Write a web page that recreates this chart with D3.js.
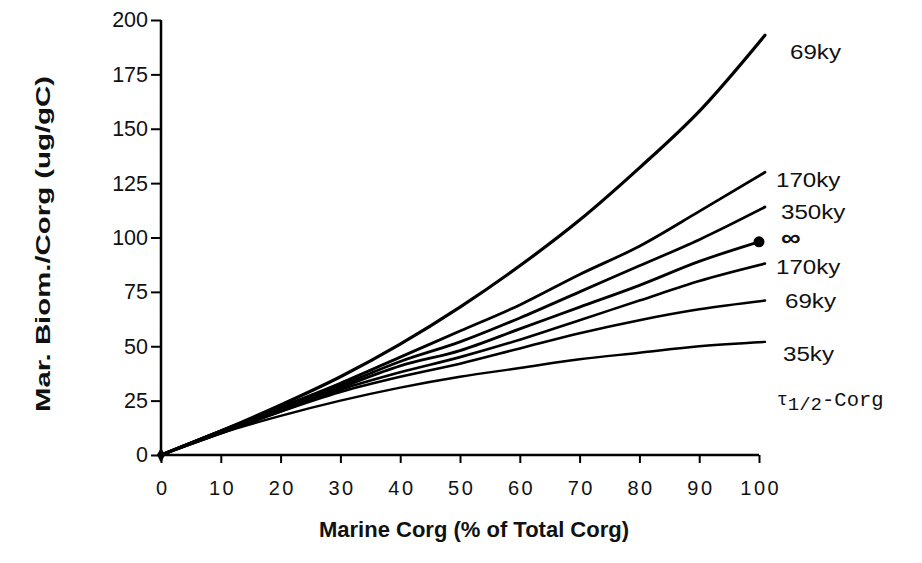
<!DOCTYPE html>
<html>
<head>
<meta charset="utf-8">
<script src="https://cdn.jsdelivr.net/npm/d3@7"></script>
<style>
  html, body { margin: 0; padding: 0; background: #fff; }
  svg { display: block; }
  text { fill: #111; }
</style>
</head>
<body>
<svg id="chart" width="922" height="563"></svg>
<script>
// Marine Corg share (% of total Corg) at which each curve is sampled
const marinePct = [0, 10, 20, 30, 40, 50, 60, 70, 80, 90, 101];
const marinePctInf = [0, 10, 20, 30, 40, 50, 60, 70, 80, 90, 100];

// Marine biomarker / Corg (ug/gC) for each Corg half-life
const hl69Upper  = [0, 11, 23, 36, 51, 68, 87, 108, 132, 158, 193];
const hl170Upper = [0, 11, 22, 33, 45, 57, 69, 83, 96, 112, 130];
const hl350      = [0, 11, 22, 32, 43, 52, 63, 75, 87, 99, 114];
const hlInfinite = [0, 11, 21, 31, 41, 48, 58, 68, 78, 89, 98];
const hl170Lower = [0, 10, 20, 30, 38, 45, 53, 62, 71, 80, 88];
const hl69Lower  = [0, 10, 20, 29, 36, 42, 49, 56, 62, 67, 71];
const hl35       = [0, 10, 18, 25, 31, 36, 40, 44, 47, 50, 52];

const curveLabels = ["69ky", "170ky", "350ky", "\u221E", "170ky", "69ky", "35ky"];

const xTicks = [0, 10, 20, 30, 40, 50, 60, 70, 80, 90, 100];
const yTicks = [0, 25, 50, 75, 100, 125, 150, 175, 200];

const svg = d3.select("#chart");
const x = d3.scaleLinear().domain([0, 100]).range([161, 759]);
const y = d3.scaleLinear().domain([0, 200]).range([455, 20]);

const series = [
  { xs: marinePct,    ys: hl69Upper,  w: 3.2 },
  { xs: marinePct,    ys: hl170Upper, w: 2.8 },
  { xs: marinePct,    ys: hl350,      w: 2.8 },
  { xs: marinePctInf, ys: hlInfinite, w: 2.8 },
  { xs: marinePct,    ys: hl170Lower, w: 2.6 },
  { xs: marinePct,    ys: hl69Lower,  w: 2.6 },
  { xs: marinePct,    ys: hl35,       w: 2.4 }
];

const line = d3.line()
  .x(d => x(d[0]))
  .y(d => y(d[1]))
  .curve(d3.curveMonotoneX);

// curves
svg.append("g").selectAll("path")
  .data(series)
  .join("path")
  .attr("d", s => line(s.xs.map((v, i) => [v, s.ys[i]])))
  .attr("fill", "none")
  .attr("stroke", "#000")
  .attr("stroke-width", s => s.w)
  .attr("stroke-linejoin", "round")
  .attr("stroke-linecap", "round");

// end point of the non-degrading curve
svg.append("circle")
  .attr("cx", x(marinePctInf[marinePctInf.length - 1]))
  .attr("cy", y(hlInfinite[hlInfinite.length - 1]))
  .attr("r", 5.5)
  .attr("fill", "#000");

// origin marker
svg.append("path")
  .attr("d", d3.symbol().type(d3.symbolDiamond).size(60)())
  .attr("transform", `translate(${x(0)},${y(0)})`)
  .attr("fill", "#000");

// x axis
const xAxis = svg.append("g").attr("transform", `translate(0,${y(0)})`);
xAxis.call(d3.axisBottom(x).tickValues(d3.range(0, 101, 5)).tickSize(4).tickFormat(""))
  .call(g => g.select(".domain").remove());
xAxis.call(d3.axisBottom(x).tickValues(xTicks).tickSize(8).tickPadding(18).tickFormat(d3.format("d")))
  .call(g => g.select(".domain").remove());
xAxis.selectAll("line").attr("stroke", "#000").attr("stroke-width", 2);
xAxis.selectAll("text")
  .attr("font-family", "Liberation Sans, Arial, sans-serif")
  .attr("font-size", 20)
  .attr("letter-spacing", "2.5px")
  .attr("dx", "1.2px")
  .attr("fill", "#111");
xAxis.append("line")
  .attr("x1", x(0)).attr("x2", x(100))
  .attr("stroke", "#000").attr("stroke-width", 2.5);

// y axis
const yAxis = svg.append("g").attr("transform", `translate(${x(0)},0)`);
yAxis.call(d3.axisLeft(y).tickValues(d3.range(0, 201, 12.5)).tickSize(5).tickFormat(""))
  .call(g => g.select(".domain").remove());
yAxis.call(d3.axisLeft(y).tickValues(yTicks).tickSize(10).tickPadding(3).tickFormat(d3.format("d")))
  .call(g => g.select(".domain").remove());
yAxis.selectAll("line").attr("stroke", "#000").attr("stroke-width", 2);
yAxis.selectAll("text")
  .attr("font-family", "Liberation Sans, Arial, sans-serif")
  .attr("font-size", 21.5)
  .attr("fill", "#111");
yAxis.append("line")
  .attr("y1", y(0) + 6).attr("y2", y(200))
  .attr("stroke", "#000").attr("stroke-width", 2.5);

// axis titles
svg.append("text")
  .attr("transform", "translate(42,244) rotate(-90)")
  .attr("text-anchor", "middle")
  .attr("dominant-baseline", "central")
  .attr("font-family", "Liberation Sans, Arial, sans-serif")
  .attr("font-weight", "bold")
  .attr("font-size", 21)
  .attr("textLength", 336)
  .attr("lengthAdjust", "spacingAndGlyphs")
  .text("Mar. Biom./Corg (ug/gC)");

svg.append("text")
  .attr("x", 474).attr("y", 529)
  .attr("text-anchor", "middle")
  .attr("dominant-baseline", "central")
  .attr("font-family", "Liberation Sans, Arial, sans-serif")
  .attr("font-weight", "bold")
  .attr("font-size", 22)
  .text("Marine Corg (% of Total Corg)");

// curve labels at the right end
const labelPos = [
  [790, 52], [776, 180], [781, 212], [781, 238], [776, 267], [785, 301], [783, 354]
];
svg.append("g").selectAll("text")
  .data(curveLabels)
  .join("text")
  .attr("transform", (d, i) => `translate(${labelPos[i][0]},${labelPos[i][1]}) scale(1.15,1)`)
  .attr("dominant-baseline", "central")
  .attr("font-family", "Liberation Sans, Arial, sans-serif")
  .attr("font-size", (d, i) => i === 3 ? 24 : 21)
  .attr("font-weight", (d, i) => i === 3 ? "bold" : "normal")
  .text(d => d);

// half-life legend caption
const cap = svg.append("text")
  .attr("x", 777).attr("y", 400)
  .attr("dominant-baseline", "central")
  .attr("font-family", "Liberation Mono, Courier New, monospace")
  .attr("font-size", 20.5);
cap.append("tspan").attr("font-size", 18).text("\u03C4");
cap.append("tspan").attr("dy", 5).attr("font-size", 19).text("1/2");
cap.append("tspan").attr("dy", -5).text("-Corg");
</script>
</body>
</html>
